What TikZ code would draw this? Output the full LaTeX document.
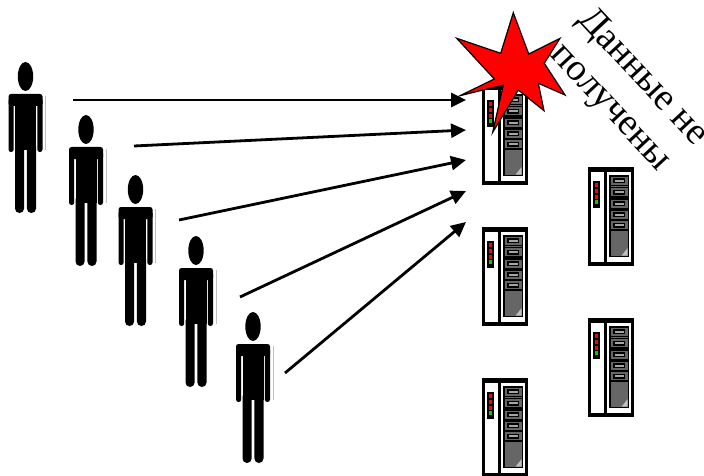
\documentclass[tikz,border=0pt]{standalone}
\usepackage{fontspec}
\setmainfont{Liberation Serif}
\usetikzlibrary{arrows.meta,positioning,calc}
\tikzset{
  person/.pic={
    \fill (0,14.5) ellipse (7.7 and 14.5);
    \fill[rounded corners=2.5] (-17,32) rectangle (17,44);
    \fill[rounded corners=2.5] (-17,36) rectangle (-11.8,90);
    \fill[rounded corners=2.5] (11.8,36) rectangle (17,90);
    \fill (-10.5,36) rectangle (10.5,88);
    \fill[rounded corners=4.5] (-10.5,80) rectangle (-1.4,151);
    \fill[rounded corners=4.5] (1.4,80) rectangle (10.5,151);
    \draw[gray!50,line width=.6] (20,34) -- (20,88);
  },
  server/.pic={
    \draw[fill=white,line width=2.6] (1.3,2) rectangle (44.7,97);
    \fill (0,0) rectangle (46,4.5);
    \fill (0,94.5) rectangle (46,99);
    \fill (15.5,0) rectangle (18.7,99);
    \fill (5.3,14) rectangle (12,41);
    \foreach \ledy in {16,21.8,27.6}
      \fill[red] (7,\ledy) rectangle (10.3,\ledy+4);
    \fill[green!80!black] (7,33.4) rectangle (10.3,37.4);
    \draw[fill=black!60,line width=1.6] (22,9) rectangle (40.5,89.5);
    \foreach \drawy in {9,20.5,32,43,53.5} {
      \draw[fill=black!60,line width=1.6] (22,\drawy) rectangle (40.5,\drawy+9.5);
      \draw[fill=black!35,line width=1.3] (26,\drawy+3) rectangle (36.5,\drawy+6.5);
    }
    \fill[black!25] (39.7,81) -- (39.7,88.7) -- (33.5,88.7) -- cycle;
  },
  signal/.style={->,line width=2.8,>={Stealth[length=15,width=14,inset=0]}},
}
\begin{document}
\begin{tikzpicture}[x=1pt,y=-1pt]
\useasboundingbox (0,0) rectangle (704,476);
% people
\foreach \px/\py in {25.5/62,86/115,135.5/175,196/236,253/312}
  \pic at (\px,\py) {person};
% servers
\foreach \sx/\sy [count=\i] in {482/86,482/227,482/378,588/167,588/318}
  \pic at (\sx,\sy) {server};
% requests
\foreach \fx/\fy/\ty [count=\i] in {73/100/100,134/146/130,179/220/160,240/297/191,285/373/222} {
  \coordinate (src\i) at (\fx,\fy);
  \coordinate (dst\i) at (466,\ty);
  \draw[signal] (src\i) -- (dst\i);
}
% burst over first server
\draw[fill=red,line width=1.2,line join=miter] (513.3,12.7) -- (528.7,54) -- (560,38.3) -- (544.3,63.3)
  -- (565,95) -- (538.3,83.3) -- (544,110.7) -- (518.3,90) -- (492.7,132.3) -- (503.3,85)
  -- (460,95.7) -- (494.3,79) -- (456.7,38.3) -- (500.7,53.3) -- cycle;
\node[rotate=-47,align=center,inner sep=0,font=\fontsize{38}{44}\selectfont] (nodata) at (626,93) {Данные не\\получены};
\end{tikzpicture}
\end{document}
